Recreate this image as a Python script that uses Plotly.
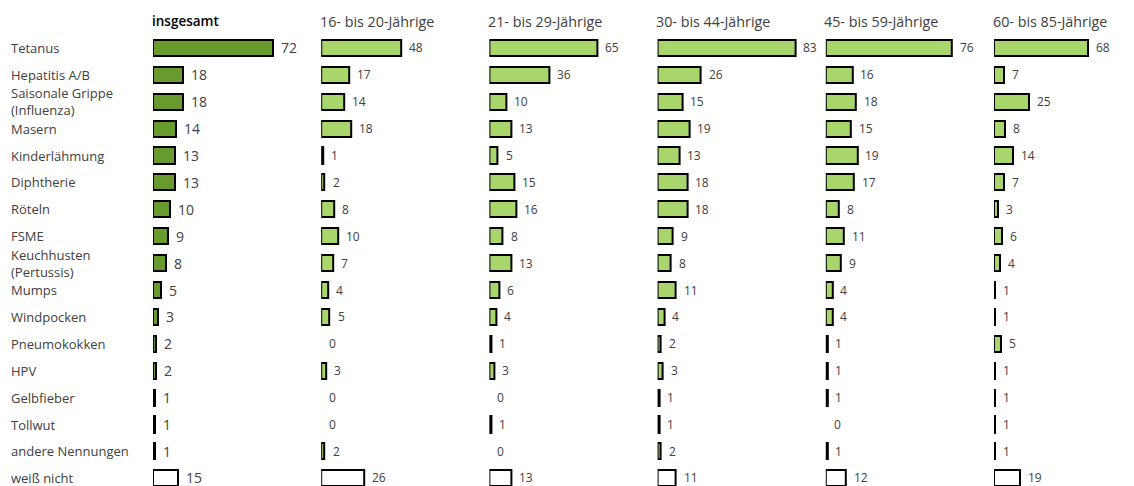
import plotly.graph_objects as go

# Impfungen – Nennungen in Prozent, gesamt und nach Altersgruppen
categories = [
    "Tetanus", "Hepatitis A/B", "Saisonale Grippe<br>(Influenza)", "Masern",
    "Kinderlähmung", "Diphtherie", "Röteln", "FSME", "Keuchhusten<br>(Pertussis)",
    "Mumps", "Windpocken", "Pneumokokken", "HPV", "Gelbfieber", "Tollwut",
    "andere Nennungen", "weiß nicht",
]

headers = [
    "insgesamt", "16- bis 20-Jährige", "21- bis 29-Jährige",
    "30- bis 44-Jährige", "45- bis 59-Jährige", "60- bis 85-Jährige",
]

insgesamt = [72, 18, 18, 14, 13, 13, 10, 9, 8, 5, 3, 2, 2, 1, 1, 1, 15]
age_16_20 = [48, 17, 14, 18, 1, 2, 8, 10, 7, 4, 5, 0, 3, 0, 0, 2, 26]
age_21_29 = [65, 36, 10, 13, 5, 15, 16, 8, 13, 6, 4, 1, 3, 0, 1, 0, 13]
age_30_44 = [83, 26, 15, 19, 13, 18, 18, 9, 8, 11, 4, 2, 3, 1, 1, 2, 11]
age_45_59 = [76, 16, 18, 15, 19, 17, 8, 11, 9, 4, 4, 1, 1, 1, 0, 1, 12]
age_60_85 = [68, 7, 25, 8, 14, 7, 3, 6, 4, 1, 1, 5, 1, 1, 1, 1, 19]

series = [insgesamt, age_16_20, age_21_29, age_30_44, age_45_59, age_60_85]

W, H = 1134, 486
DARK_GREEN = "#679b2e"
LIGHT_GREEN = "#a8d56c"
TEXT = "#404040"
FONT = "Open Sans"

panel_left = 153.0      # px where the first panel's zero line sits
panel_step = 168.2      # px between panels
px_per_unit = 1.66      # horizontal scale shared by all panels
x_max = panel_step / px_per_unit

row_h = 26.9
row0 = 47.9
y_top = -row0 / row_h
y_bottom = (H - row0) / row_h

rows = list(range(len(categories)))

fig = go.Figure()
annotations = []

for k, (name, vals) in enumerate(zip(headers, series)):
    axis_id = "" if k == 0 else str(k + 1)
    base = DARK_GREEN if k == 0 else LIGHT_GREEN
    colors = [base] * (len(vals) - 1) + ["white"]
    # no outline for empty bars, so a 0 leaves only its label
    line_w = [2 if v > 0 else 0 for v in vals]
    fig.add_trace(go.Bar(
        x=vals, y=rows, orientation="h",
        width=0.6,
        marker=dict(color=colors, line=dict(color="black", width=line_w)),
        xaxis="x" + axis_id, yaxis="y",
        hoverinfo="skip", showlegend=False,
    ))
    x0 = panel_left + k * panel_step
    fig.layout["xaxis" + axis_id] = dict(
        domain=[x0 / W, min((x0 + panel_step) / W, 1.0)],
        range=[0, x_max], visible=False, fixedrange=True,
        anchor="y",
    )
    # Gruppenüberschrift
    annotations.append(dict(
        x=(x0 - 3.5) / W, xref="paper", y=-1.0, yref="y",
        text=name, showarrow=False, xanchor="left", yanchor="middle",
        font=dict(family=FONT, size=13.5 if k == 0 else 14.3,
                  color="black" if k == 0 else TEXT,
                  weight=600 if k == 0 else 400),
    ))
    # Wertebeschriftungen
    for i, v in enumerate(vals):
        annotations.append(dict(
            x=v, xref="x" + axis_id, y=i, yref="y",
            text=str(v), showarrow=False, xanchor="left", yanchor="middle",
            xshift=6, yshift=1 if i == len(vals) - 1 else 0,
            font=dict(family=FONT, size=14 if k == 0 else 12, color=TEXT),
        ))

# Kategorienbeschriftungen
for i, cat in enumerate(categories):
    annotations.append(dict(
        x=9 / W, xref="paper", y=i, yref="y",
        text=cat, showarrow=False, xanchor="left", yanchor="middle",
        align="left",
        font=dict(family=FONT, size=13, color=TEXT),
    ))

fig.update_layout(
    width=W, height=H,
    margin=dict(l=0, r=0, t=0, b=0),
    paper_bgcolor="white", plot_bgcolor="white",
    yaxis=dict(range=[y_bottom, y_top], visible=False, domain=[0, 1],
               fixedrange=True),
    annotations=annotations,
    bargap=0,
)

fig.write_html("out.html", config={"displayModeBar": False})
